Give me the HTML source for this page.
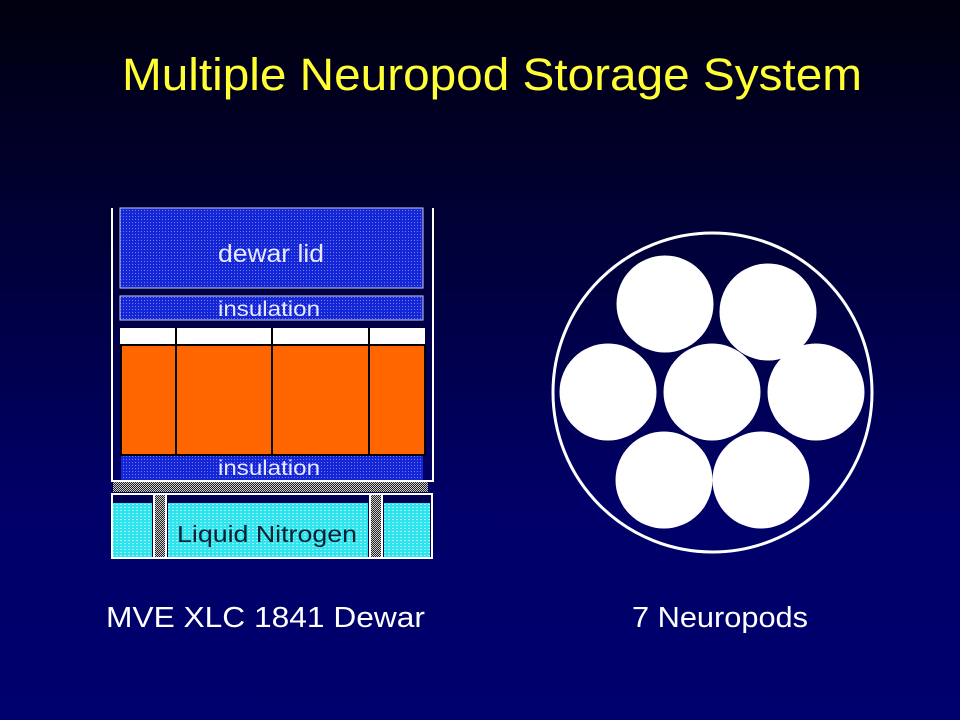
<!DOCTYPE html>
<html><head><meta charset="utf-8"><style>
html,body{margin:0;padding:0;width:960px;height:720px;overflow:hidden}
body{background:linear-gradient(#00000e 0%,#00003a 35%,#000068 70%,#00006e 100%)}
svg{display:block}
text{font-family:"Liberation Sans",sans-serif}
</style></head><body>
<svg width="960" height="720" viewBox="0 0 960 720" xmlns="http://www.w3.org/2000/svg">
<defs>
<pattern id="dots" width="3" height="3" patternUnits="userSpaceOnUse">
<rect width="3" height="3" fill="#1426d6"/><rect width="1" height="1" fill="#6a7cf0"/>
</pattern>
<pattern id="cy" width="4" height="3" patternUnits="userSpaceOnUse">
<rect width="4" height="3" fill="#2ee4ee"/><rect width="2" height="1" fill="#9ef2f8"/>
</pattern>
<pattern id="hatch" width="2" height="2" patternUnits="userSpaceOnUse">
<rect width="2" height="2" fill="#222"/><rect width="1" height="1" fill="#ccc"/><rect x="1" y="1" width="1" height="1" fill="#ccc"/>
</pattern>
</defs>
<text x="492" y="90" font-size="45" fill="#ffff33" text-anchor="middle" textLength="740" lengthAdjust="spacingAndGlyphs">Multiple Neuropod Storage System</text>

<!-- dewar -->
<line x1="112" y1="208" x2="112" y2="482" stroke="#fff" stroke-width="2"/>
<line x1="433" y1="208" x2="433" y2="482" stroke="#fff" stroke-width="2"/>
<rect x="120" y="208" width="303" height="80" fill="url(#dots)" stroke="#ccd" stroke-width="1"/>
<text x="271" y="262" font-size="25" fill="#e8e8ff" text-anchor="middle" textLength="106" lengthAdjust="spacingAndGlyphs">dewar lid</text>
<rect x="120" y="296" width="303" height="24" fill="url(#dots)" stroke="#ccd" stroke-width="1"/>
<text x="269" y="316" font-size="21" fill="#e8e8ff" text-anchor="middle" textLength="102" lengthAdjust="spacingAndGlyphs">insulation</text>
<rect x="120" y="328" width="305" height="17" fill="#fff"/>
<rect x="121" y="345" width="304" height="110" fill="#ff6600" stroke="#000" stroke-width="2"/>
<rect x="175" y="328" width="2" height="127" fill="#000"/>
<rect x="271" y="328" width="2" height="127" fill="#000"/>
<rect x="368" y="328" width="2" height="127" fill="#000"/>
<rect x="121" y="456" width="302" height="24" fill="url(#dots)"/>
<text x="269" y="475" font-size="21" fill="#e8e8ff" text-anchor="middle" textLength="102" lengthAdjust="spacingAndGlyphs">insulation</text>
<rect x="112" y="480" width="321" height="2" fill="#fff"/>
<rect x="113" y="482" width="315" height="10" fill="url(#hatch)"/>
<rect x="111" y="493" width="322" height="66" fill="#fff"/>
<rect x="113" y="495" width="318" height="62" fill="#000050"/>
<rect x="113" y="503" width="39" height="54" fill="url(#cy)"/>
<rect x="168" y="503" width="200" height="54" fill="url(#cy)"/>
<rect x="384" y="503" width="46" height="54" fill="url(#cy)"/>
<rect x="153" y="495" width="14" height="62" fill="#fff"/>
<rect x="155" y="495" width="10" height="62" fill="url(#hatch)"/>
<rect x="369" y="495" width="14" height="62" fill="#fff"/>
<rect x="371" y="495" width="10" height="62" fill="url(#hatch)"/>
<text x="267" y="542" font-size="23" fill="#082030" text-anchor="middle" textLength="180" lengthAdjust="spacingAndGlyphs">Liquid Nitrogen</text>

<!-- neuropods -->
<circle cx="712.5" cy="392.5" r="159.5" fill="none" stroke="#fff" stroke-width="3"/>
<g fill="#fff">
<circle cx="665" cy="304" r="48.5"/>
<circle cx="768" cy="312" r="48.5"/>
<circle cx="608" cy="392" r="48.5"/>
<circle cx="712" cy="392" r="48.5"/>
<circle cx="816" cy="392" r="48.5"/>
<circle cx="664" cy="480" r="48.5"/>
<circle cx="761" cy="480" r="48.5"/>
</g>

<text x="106" y="627" font-size="29" fill="#fff" textLength="319" lengthAdjust="spacingAndGlyphs">MVE XLC 1841 Dewar</text>
<text x="632" y="627" font-size="29" fill="#fff" textLength="176" lengthAdjust="spacingAndGlyphs">7 Neuropods</text>
</svg>
</body></html>
